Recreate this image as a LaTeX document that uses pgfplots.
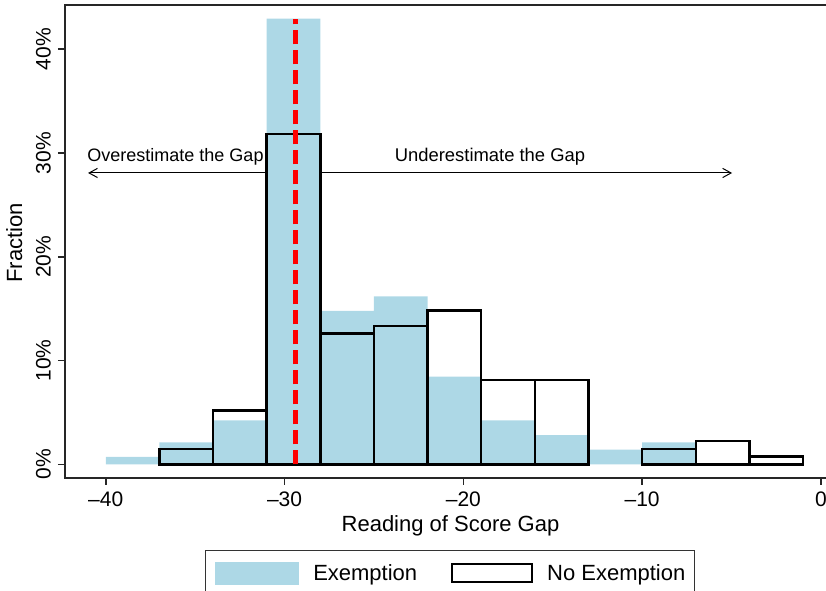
\documentclass[border=0pt]{standalone}
\usepackage{pgfplots}
\pgfplotsset{compat=1.18}
\usepackage{fontspec}
\setmainfont{Liberation Sans}
\usetikzlibrary{arrows.meta}
\definecolor{ltblue}{RGB}{173,216,230}
\begin{document}
\begin{tikzpicture}
\begin{axis}[
  x=8.94pt, y=5.1875pt,
  xmin=-42.28, xmax=0.5, ymin=-1.29, ymax=44.27,
  axis line style={line width=1pt, black!85},
  tick align=outside, xtick pos=bottom, ytick pos=left,
  major tick length=3.5pt,
  tick style={line width=0.8pt, black!85},
  xtick={-40,-30,-20,-10,0},
  xticklabels={\textendash40,\textendash30,\textendash20,\textendash10,0},
  ytick={0,10,20,30,40},
  yticklabels={0\%,10\%,20\%,30\%,40\%},
  ticklabel style={font=\fontsize{10.5}{12}\selectfont},
  yticklabel style={rotate=90, anchor=south},
  xlabel={Reading of Score Gap},
  ylabel={Fraction},
  label style={font=\fontsize{11}{13}\selectfont},
  xlabel style={at={(axis description cs:0.504,-0.1149)}, anchor=base},
  ylabel style={at={(axis description cs:-0.0562,0.4965)}, anchor=base},
  legend style={at={(axis description cs:0.5033,-0.1530)}, anchor=north,
    legend columns=2, draw=black!80, line width=0.7pt,
    font=\fontsize{11}{13}\selectfont,
    inner xsep=4.5pt, inner ysep=5.5pt,
    /tikz/every odd column/.append style={column sep=7.0pt},
    /tikz/every even column/.append style={column sep=17pt},
    nodes={inner sep=0pt, yshift=3.5pt}},
  legend cell align=left,
]
\coordinate (BL) at (rel axis cs:0,0);
\coordinate (TL) at (rel axis cs:0,1);
% arrows
\addplot[forget plot, line width=0.5pt, -{Straight Barb[length=4.2pt,width=4.6pt]}] coordinates {(-29.4,28.08)(-40.99,28.08)};
\addplot[forget plot, line width=0.5pt, -{Straight Barb[length=4.2pt,width=4.6pt]}] coordinates {(-29.4,28.08)(-4.97,28.08)};
% Exemption
\addplot[forget plot, ybar interval, fill=ltblue, draw=none] coordinates {(-40,0.704)(-37,2.113)(-34,4.225)(-31,42.958)(-28,14.789)(-25,16.197)(-22,8.451)(-19,4.225)(-16,2.817)(-13,1.408)(-10,2.113)(-7,0)};
% No Exemption
\addplot[forget plot, ybar interval, draw=black, fill=none, line width=1.2pt] coordinates {(-37,1.481)(-34,5.185)(-31,31.852)(-28,12.593)(-25,13.333)(-22,14.815)(-19,8.148)(-16,8.148)(-13,0)};
\addplot[forget plot, ybar interval, draw=black, fill=none, line width=1.2pt] coordinates {(-10,1.481)(-7,2.222)(-4,0.741)(-1,0)};
% red line
\addplot[forget plot, red, line width=2.4pt, dash pattern=on 7pt off 3pt] coordinates {(-29.41,0)(-29.41,42.958)};
\node[anchor=base, font=\fontsize{9}{11}\selectfont] at (axis cs:-36.10,29.17) {Overestimate the Gap};
\node[anchor=base, font=\fontsize{9.2}{11}\selectfont] at (axis cs:-18.51,29.17) {Underestimate the Gap};
\addlegendimage{legend image code/.code={\fill[ltblue] (0pt,-1.56pt) rectangle (41.65pt,9.44pt);}}
\addlegendentry{Exemption}
\addlegendimage{legend image code/.code={\draw[black, line width=1pt, fill=white] (0.5pt,-0.56pt) rectangle (40.5pt,8.44pt);}}
\addlegendentry{No Exemption}
\end{axis}
\pgfresetboundingbox
\path[use as bounding box] ([shift={(-32.5pt,-56.65pt)}]BL) rectangle ([shift={(380.5pt,2.5pt)}]TL);
\end{tikzpicture}
\end{document}
